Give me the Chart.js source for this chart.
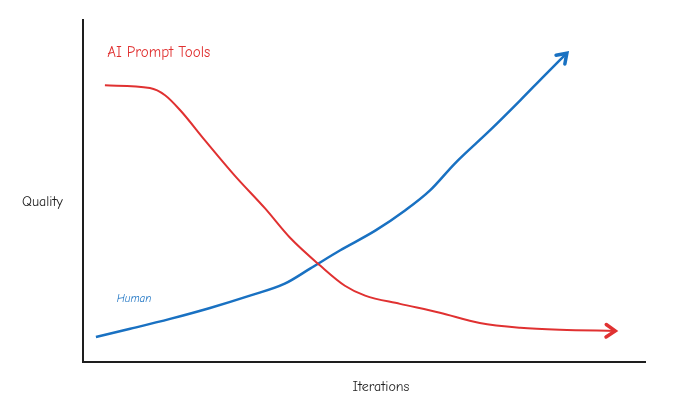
<!DOCTYPE html>
<html>
<head>
<meta charset="utf-8">
<script src="https://cdn.jsdelivr.net/npm/chart.js@4"></script>
<style>
  html, body { margin: 0; padding: 0; background: #fff; }
  canvas { display: block; }
</style>
</head>
<body>
<canvas id="c" width="680" height="409"></canvas>
<script>
// Data (x: iterations 0-100, y: quality 0-100)
const aiX = [3.9, 11.9, 14.6, 17.3, 21.7, 27.0, 32.4, 36.8, 42.2, 46.6, 50.2, 56.4, 63.5, 70.6, 77.8, 84.9, 94.7];
const aiY = [80.9, 80.1, 78.0, 73.6, 64.8, 54.5, 44.9, 36.4, 28.2, 22.3, 19.4, 17.0, 14.4, 11.4, 10.0, 9.4, 9.1];
const humanX = [2.3, 8.4, 15.5, 22.6, 29.7, 35.9, 40.4, 45.7, 52.0, 57.3, 61.7, 66.2, 72.4, 77.8, 82.2, 86.1];
const humanY = [7.3, 9.7, 12.6, 15.8, 19.4, 22.9, 27.3, 32.6, 38.4, 44.3, 50.1, 58.1, 67.7, 76.5, 83.9, 90.3];

const RED = "#e03131";
const BLUE = "#1971c2";
const FONT = "'Comic Neue', 'Lato', sans-serif";

const toPts = (xs, ys) => xs.map((x, i) => ({ x: x, y: ys[i] }));

// arrow heads at the end of each line + free text labels
const sketchPlugin = {
    id: "sketch",
    afterDatasetsDraw(chart) {
        const ctx = chart.ctx;
        chart.data.datasets.forEach((ds, i) => {
            const pts = chart.getDatasetMeta(i).data;
            const a = pts[pts.length - 2], b = pts[pts.length - 1];
            const ang = Math.atan2(b.y - a.y, b.x - a.x);
            const len = 11;
            ctx.save();
            ctx.strokeStyle = ds.borderColor;
            ctx.lineWidth = 3.5;
            ctx.lineCap = "round";
            ctx.beginPath();
            ctx.moveTo(b.x - len * Math.cos(ang - 0.6), b.y - len * Math.sin(ang - 0.6));
            ctx.lineTo(b.x, b.y);
            ctx.lineTo(b.x - len * Math.cos(ang + 0.6), b.y - len * Math.sin(ang + 0.6));
            ctx.stroke();
            ctx.restore();
        });

        const xs = chart.scales.x, ys = chart.scales.y;
        ctx.save();
        ctx.textBaseline = "middle";
        ctx.textAlign = "left";
        ctx.fillStyle = RED;
        ctx.font = "15px " + FONT;
        ctx.fillText("AI Prompt Tools", xs.getPixelForValue(4.3), ys.getPixelForValue(90.5));
        ctx.fillStyle = BLUE;
        ctx.font = "italic 11px " + FONT;
        ctx.fillText("Human", xs.getPixelForValue(6.0), ys.getPixelForValue(18.5));
        ctx.fillStyle = "#1e1e1e";
        ctx.font = "14px " + FONT;
        ctx.fillText("Quality", 22, 202);
        ctx.textAlign = "center";
        ctx.fillText("Iterations", 381, 387);
        ctx.restore();
    }
};

new Chart(document.getElementById("c"), {
    type: "line",
    data: {
        datasets: [
            {
                label: "AI Prompt Tools",
                data: toPts(aiX, aiY),
                borderColor: RED,
                borderWidth: 2,
                pointRadius: 0,
                cubicInterpolationMode: "monotone"
            },
            {
                label: "Human",
                data: toPts(humanX, humanY),
                borderColor: BLUE,
                borderWidth: 2.5,
                pointRadius: 0,
                cubicInterpolationMode: "monotone"
            }
        ]
    },
    options: {
        responsive: false,
        animation: false,
        layout: { padding: { left: 75, right: 35, top: 20, bottom: 39 } },
        plugins: { legend: { display: false }, tooltip: { enabled: false } },
        scales: {
            x: {
                type: "linear", min: 0, max: 100,
                ticks: { display: false },
                grid: { display: false },
                border: { display: true, color: "#1e1e1e", width: 2 }
            },
            y: {
                type: "linear", min: 0, max: 100,
                ticks: { display: false },
                grid: { display: false },
                border: { display: true, color: "#1e1e1e", width: 2 }
            }
        }
    },
    plugins: [sketchPlugin]
});
</script>
</body>
</html>
